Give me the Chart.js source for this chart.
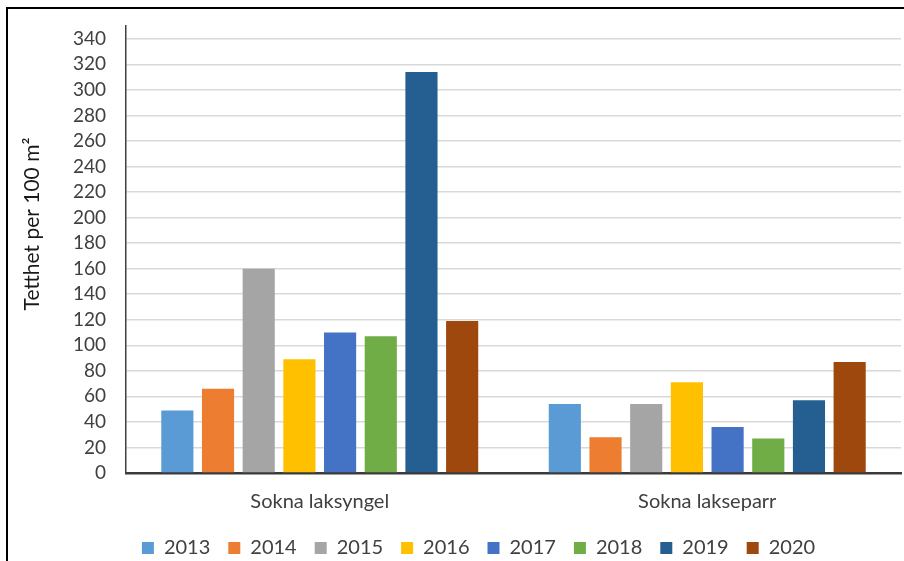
<!DOCTYPE html>
<html>
<head>
<meta charset="utf-8">
<script src="https://cdn.jsdelivr.net/npm/chart.js@4.4.1/dist/chart.umd.min.js"></script>
<style>
  html, body { margin: 0; padding: 0; background: #fff; overflow: hidden; }
  #frame { position: absolute; left: 6px; top: 7px; width: 1000px; height: 1000px; border: 2px solid #000; box-sizing: border-box; }
  #wrap { position: absolute; left: 0; top: 0; width: 904px; height: 561px; }
</style>
</head>
<body>
<div id="frame"></div>
<div id="wrap"><canvas id="c" width="904" height="561"></canvas></div>
<script>
const categories = ["Sokna laksyngel", "Sokna lakseparr"];
const years = ["2013", "2014", "2015", "2016", "2017", "2018", "2019", "2020"];
const v2013 = [49, 54];
const v2014 = [66, 28];
const v2015 = [160, 54];
const v2016 = [89, 71];
const v2017 = [110, 36];
const v2018 = [107, 27];
const v2019 = [314, 57];
const v2020 = [119, 87];
const yTicks = [0, 20, 40, 60, 80, 100, 120, 140, 160, 180, 200, 220, 240, 260, 280, 300, 320, 340];
const yTitle = "Tetthet per 100 m²";

const seriesValues = [v2013, v2014, v2015, v2016, v2017, v2018, v2019, v2020];
const colors = ["#5B9BD5", "#ED7D31", "#A5A5A5", "#FFC000", "#4472C4", "#70AD47", "#255E91", "#9E480E"];

const FONT = "Lato, 'Open Sans', sans-serif";

const titlePlugin = {
  id: 'yTitle',
  afterDraw(chart) {
    const ctx = chart.ctx;
    ctx.save();
    ctx.translate(32, 224);
    ctx.rotate(-Math.PI / 2);
    ctx.font = "21px " + FONT;
    ctx.fillStyle = "#1a1a1a";
    ctx.textAlign = "center";
    ctx.textBaseline = "middle";
    ctx.fillText(yTitle, 0, 0);
    ctx.restore();
  }
};

const legendHeightPlugin = {
  id: 'legendHeight',
  beforeInit(chart) {
    const lg = chart.legend;
    if (!lg) return;
    const orig = lg.fit;
    lg.fit = function () {
      orig.call(this);
      this.height = 41;
    };
  }
};

new Chart(document.getElementById('c'), {
  type: 'bar',
  data: {
    labels: categories,
    datasets: years.map((y, i) => ({
      label: y,
      data: seriesValues[i],
      backgroundColor: colors[i],
      borderWidth: 0,
      categoryPercentage: 0.84,
      barPercentage: 0.79
    }))
  },
  options: {
    responsive: false,
    animation: false,
    devicePixelRatio: 1,
    layout: { padding: { left: 56, right: 3, top: 26, bottom: 0 } },
    plugins: {
      legend: {
        position: 'bottom',
        labels: {
          boxWidth: 12,
          boxHeight: 12,
          padding: 18,
          color: '#404040',
          font: { family: FONT, size: 20 }
        }
      },
      tooltip: { enabled: false }
    },
    scales: {
      x: {
        grid: { display: false, drawTicks: false },
        border: { color: '#3a3a3a', width: 2.5 },
        ticks: { color: '#404040', padding: 17, font: { family: FONT, size: 20 } },
        afterFit(scale) { scale.height = 47; scale.paddingLeft = 0; scale.paddingRight = 0; }
      },
      y: {
        min: 0,
        max: 350,
        grid: { color: '#d9d9d9', lineWidth: 1.5, drawTicks: false },
        border: { color: '#404040', width: 1.5 },
        ticks: { stepSize: 20, autoSkip: false, color: '#404040', padding: 20, font: { family: FONT, size: 19 } },
        afterBuildTicks(scale) { scale.ticks = yTicks.map(v => ({ value: v })); },
        afterFit(scale) { scale.width = 70; scale.paddingTop = 0; scale.paddingBottom = 0; }
      }
    }
  },
  plugins: [titlePlugin, legendHeightPlugin]
});
</script>
</body>
</html>
